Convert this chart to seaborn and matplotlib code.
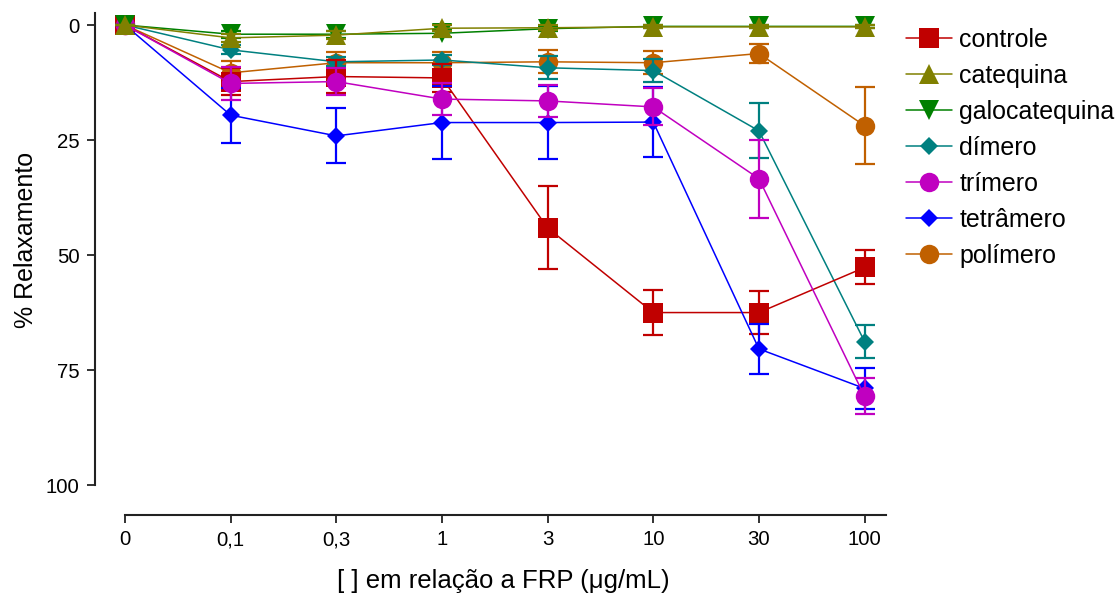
import matplotlib
matplotlib.use("Agg")
import matplotlib.pyplot as plt
import seaborn as sns
import numpy as np
import pandas as pd

# ---- data ----
concentrations = ["0", "0,1", "0,3", "1", "3", "10", "30", "100"]
series_names = ["controle", "catequina", "galocatequina", "dímero", "trímero", "tetrâmero", "polímero"]

controle      = [0, 12.3, 11.2, 11.5, 44.1, 62.5, 62.5, 52.7]
controle_sd   = [0, 3.0, 3.5, 3.0, 9.0, 4.8, 4.6, 3.7]
catequina     = [0, 2.8, 2.2, 0.7, 0.6, 0.4, 0.4, 0.4]
catequina_sd  = [0, 0.8, 0.8, 0.6, 0.5, 0.3, 0.3, 0.3]
galocat       = [0, 2.0, 2.0, 1.8, 0.8, 0.3, 0.3, 0.3]
galocat_sd    = [0, 0.8, 0.8, 0.8, 0.5, 0.3, 0.3, 0.3]
dimero        = [0, 5.4, 8.0, 7.6, 9.3, 9.9, 23.0, 68.8]
dimero_sd     = [0, 1.0, 1.0, 1.0, 2.5, 2.5, 6.0, 3.5]
trimero       = [0, 12.7, 12.3, 16.1, 16.5, 17.8, 33.4, 80.7]
trimero_sd    = [0, 3.6, 3.0, 3.5, 3.5, 4.0, 8.5, 3.9]
tetramero     = [0, 19.6, 24.1, 21.2, 21.2, 21.1, 70.4, 79.0]
tetramero_sd  = [0, 6.0, 6.0, 8.0, 8.0, 7.6, 5.5, 4.5]
polimero      = [0, 10.4, 8.2, 8.2, 8.0, 8.2, 6.2, 21.9]
polimero_sd   = [0, 2.5, 2.4, 2.4, 2.5, 2.5, 2.0, 8.4]

values = [controle, catequina, galocat, dimero, trimero, tetramero, polimero]
errors = [controle_sd, catequina_sd, galocat_sd, dimero_sd, trimero_sd, tetramero_sd, polimero_sd]

colors = ["#C00000", "#808000", "#008000", "#008080", "#C000C0", "#0000FF", "#C06000"]
markers = ["s", "^", "v", "D", "o", "D", "o"]
msizes = [14, 14, 14, 9.6, 14, 9.6, 14]
draw_order = [6, 3, 0, 5, 4, 2, 1]

# ---- style ----
sns.set_style("ticks")
plt.rcParams["font.family"] = ["Liberation Sans", "DejaVu Sans"]
plt.rcParams["text.color"] = "black"
plt.rcParams["axes.labelcolor"] = "black"
plt.rcParams["xtick.color"] = "black"
plt.rcParams["ytick.color"] = "black"

fig = plt.figure(figsize=(11.18, 5.94), dpi=100)
ax = fig.add_axes([95 / 1118, 79 / 594, (891 - 95) / 1118, 503.8 / 594])

xpos = np.arange(len(concentrations))
for z, i in enumerate(draw_order):
    df = pd.DataFrame({"x": xpos, "y": values[i]})
    sns.lineplot(data=df, x="x", y="y", color=colors[i], marker=markers[i],
                 markersize=msizes[i], markeredgecolor=colors[i], markeredgewidth=0,
                 linewidth=1.1, errorbar=None, ax=ax, zorder=3 + z, label=series_names[i])
    ax.errorbar(xpos, values[i], yerr=errors[i], fmt="none", ecolor=colors[i],
                elinewidth=1.6, capsize=10 * 0.72, capthick=1.6, zorder=2.5 + z)

# legend in original order
h, l = ax.get_legend_handles_labels()
hd = dict(zip(l, h))
if ax.legend_:
    ax.legend_.remove()
fig.legend([hd[n] for n in series_names], series_names, loc="upper left",
           bbox_to_anchor=(906 / 1118, 1 - 28 / 594), frameon=False, fontsize=18,
           handlelength=1.85, handletextpad=0.28, labelspacing=0.48, borderpad=0,
           borderaxespad=0)

ax.set_ylim(106.5, -3)
ax.set_xlim(-0.284, 7.25)
ax.set_yticks([0, 25, 50, 75, 100])
ax.set_yticklabels(["0", "25", "50", "75", "100"])
ax.set_xticks(xpos)
ax.set_xticklabels(concentrations)
ax.tick_params(axis="both", labelsize=14.7, length=6, width=1.3, color="#222222",
               labelcolor="black", pad=5)
ax.spines["top"].set_visible(False)
ax.spines["right"].set_visible(False)
ax.spines["left"].set_bounds(-2.6, 100)
ax.spines["bottom"].set_bounds(0, 7.2)
for s in ("left", "bottom"):
    ax.spines[s].set_linewidth(1.5)
    ax.spines[s].set_color("#222222")

ax.set_xlabel("[ ] em relação a FRP (μg/mL)", fontsize=18.5, labelpad=14)
ax.xaxis.label.set_x(0.513)
ax.set_ylabel("% Relaxamento", fontsize=18)
ax.yaxis.set_label_coords(-0.072, 0.546)

fig.savefig("out.png", dpi=100)
